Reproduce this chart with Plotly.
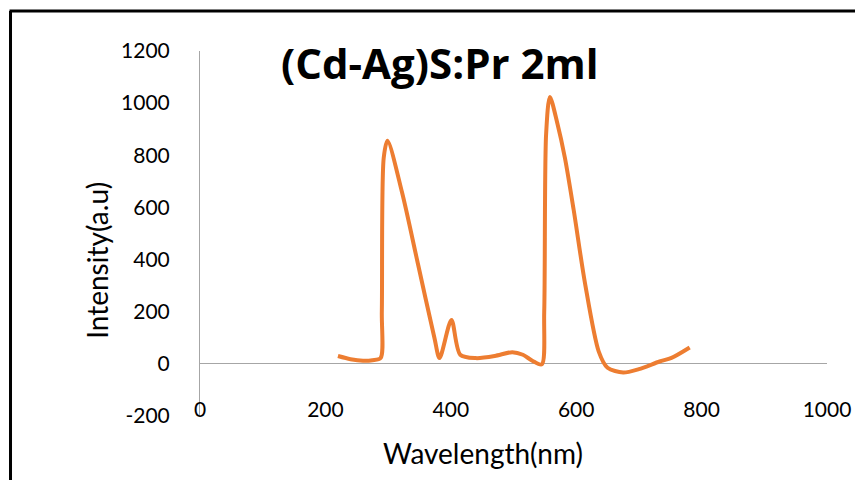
import plotly.graph_objects as go

# Data
wavelength = [220, 240, 260, 275, 288, 290, 293, 299, 322, 348, 374, 382,
              401, 415, 440, 470, 498, 515, 530, 545, 549, 552, 558, 570,
              582, 596, 614, 636, 650, 675, 700, 733, 752, 781]
intensity = [30, 18, 12, 14, 22, 200, 790, 856, 660, 379, 98, 22,
             168, 35, 22, 30, 45, 35, 12, -2, 200, 880, 1024, 922,
             790, 590, 310, 47, -15, -33, -20, 9, 23, 63]

x_ticks = [0, 200, 400, 600, 800, 1000]
y_ticks = [-200, 0, 200, 400, 600, 800, 1000, 1200]

title_text = "(Cd-Ag)S:Pr 2ml"
x_title = "Wavelength(nm)"
y_title = "Intensity(a.u)"

FONT = "Lato"
AXIS_GRAY = "#a6a6a6"

OFF = 8  # page body margin of the generated html
W, H = 863 - OFF, 480 - OFF
# plot area in page pixels: x 200..832, y 51..416
L, R, T, B = 200 - OFF, 863 - 832, 51 - OFF, 480 - 416
pw = W - L - R
ph = H - T - B


def px_x(px):
    return (px - OFF - L) / pw


def px_y(py):
    return (H - B - (py - OFF)) / ph


fig = go.Figure()
fig.add_trace(go.Scatter(
    x=wavelength, y=intensity, mode="lines",
    line=dict(color="#ED7D31", width=4, shape="spline", smoothing=0.8),
    showlegend=False, hoverinfo="x+y"))

fig.update_layout(
    width=W, height=H,
    margin=dict(l=L, r=R, t=T, b=B, pad=0),
    paper_bgcolor="white", plot_bgcolor="white",
    font=dict(family=FONT, size=21, color="black"),
    xaxis=dict(range=[0, 1000], tickvals=x_ticks, ticktext=[str(v) for v in x_ticks],
               showline=False, showgrid=False, zeroline=False, ticks="",
               anchor="free", position=px_y(395),
               tickfont=dict(family=FONT, size=21, color="black")),
    yaxis=dict(range=[-200, 1200], tickvals=y_ticks, ticktext=[str(v) for v in y_ticks],
               showline=True, linecolor=AXIS_GRAY, linewidth=1,
               showgrid=False, zeroline=True, zerolinecolor=AXIS_GRAY, zerolinewidth=1,
               ticks="", ticklabelstandoff=25,
               tickfont=dict(family=FONT, size=21, color="black")),
    annotations=[
        dict(text="<b>" + title_text + "</b>", xref="paper", yref="paper",
             x=px_x(442), y=px_y(63), xanchor="center", yanchor="middle",
             showarrow=False, font=dict(family="Open Sans", size=42, color="black")),
        dict(text=y_title, xref="paper", yref="paper", textangle=-90,
             x=px_x(96), y=px_y(260), xanchor="center", yanchor="middle",
             showarrow=False, font=dict(family=FONT, size=28, color="black")),
        dict(text=x_title, xref="paper", yref="paper",
             x=px_x(485), y=px_y(453), xanchor="center", yanchor="middle",
             showarrow=False, font=dict(family=FONT, size=28, color="black")),
    ],
    shapes=[
        dict(type="line", xref="paper", yref="paper",
             x0=px_x(9), x1=px_x(9), y0=px_y(490), y1=px_y(11),
             line=dict(color="black", width=3)),
        dict(type="line", xref="paper", yref="paper",
             x0=px_x(8), x1=px_x(880), y0=px_y(11), y1=px_y(11),
             line=dict(color="black", width=3)),
    ],
)

fig.write_html("out.html")
